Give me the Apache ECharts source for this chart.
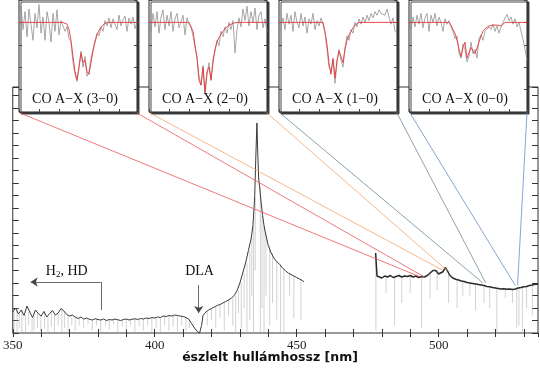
<!DOCTYPE html>
<html><head><meta charset="utf-8">
<script src="https://cdn.jsdelivr.net/npm/echarts@6/dist/echarts.min.js"></script>
<style>html,body{margin:0;padding:0;background:#fff}#c{width:540px;height:375px}</style>
</head><body><div id="c"></div>
<script>
// ---------- DATA ----------
const blueWave = [350,351,352,353,354,355,356,357,358,359,360,361,362,363,364,365,366,367,368,369,370,371,372,373,374,375,376,377,378,379,380,381,382,383,384,385,386,387,388,389,390,391,392,393,394,395,396,397,398,399,400,401,402,403,404,405,406,407,408,409,410,411,412,413,414,415,415.8,416.5,417,418,419,420,421,422,423,424,425,426,427,428,429,430,431,432,433,434,434.6,435.2,435.6,436,436.3,436.6,437,437.5,438,438.5,439,440,441,442,443,444,445,446,447,448,449,450,451,452,452.6];
const blueFlux = [0.84,1.0,0.76,0.92,0.7,1.08,0.84,0.62,0.92,0.78,
  0.68,0.86,0.64,0.78,0.9,0.72,0.8,0.98,0.88,0.74,
  0.68,0.72,0.64,0.58,0.64,0.56,0.6,0.55,0.52,0.57,
  0.54,0.52,0.56,0.5,0.54,0.52,0.56,0.53,0.5,0.54,
  0.56,0.52,0.55,0.57,0.54,0.58,0.56,0.6,0.58,0.62,
  0.6,0.64,0.62,0.68,0.66,0.7,0.68,0.72,0.7,0.68,
  0.66,0.62,0.55,
  0.38,0.2,0.06,0.0,0.3,
  0.7,0.84,0.92,0.98,1.04,1.1,1.14,1.2,1.26,1.32,1.4,1.5,1.7,2.0,2.4,2.8,3.3,3.8,
  4.3,5.4,7.0,8.4,7.2,6.2,5.8,5.2,4.7,4.3,4.0,
  3.5,3.2,3.0,2.85,2.75,2.6,2.5,2.4,2.34,2.28,2.22,2.16,2.1,
  2.05];
const redWave = [477.8,478.3,479,480,481,482,483,484,485,486,487,488,489,490,491,492,493,494,495,496,497,498,498.6,499,500,500.7,501.5,502.4,503,504,505,506,507,508,509,510,511,512,513,514,515,516,517,518,519,520,521,522,523,524,525,526,527,528,529,530,531,532,533,534,535];
const redFlux = [3.2,2.28,
  2.32,2.2,2.28,2.24,2.3,2.22,2.26,2.3,2.24,2.28,2.26,2.3,2.24,2.28,2.22,2.26,2.24,2.3,2.4,
  2.5,2.58,2.5,2.36,2.32,2.45,2.62,
  2.5,
  2.3,2.2,2.15,2.12,2.08,2.06,2.02,2.0,1.98,1.96,1.94,1.92,1.9,1.86,1.85,1.82,1.8,1.78,1.76,1.77,1.75,1.76,1.74,1.76,1.8,1.82,1.85,1.86,1.9,1.92,1.95,1.95];
const absWave = [350.5,351.5,352.3,353.2,354.5,355.6,356.8,357.5,358.7,359.9,361.2,362.4,363.6,364.7,366,367.3,368.2,369.5,370.8,372,373.4,375,376.5,378,379.5,381,382.7,384,385.5,387,388.6,390,391.5,393,394.5,396,397.5,399,400.5,402,403.5,405,406.5,408,409.5,411,412.2,
  418.5,420,421.5,423,424.5,426,427.5,428.5,429.5,430.5,431.5,432.5,433.5,434.2,434.8,435.4,437.2,437.8,438.5,439.2,440.5,441.5,443,444.3,445.5,447.5,449,451.5,
  477.9,481.5,484.5,487,490,494,497,499.5,503.5,506.5,508.5,511,513,516,518,520.5,523.5,526,527.5,528.3,529.5,531,533];
const absMin = [0.1,0.0,0.2,0.05,0.0,0.3,0.0,0.1,0.2,0.0,0.15,0.0,0.25,0.05,0.3,0.0,0.2,0.05,0.3,0.1,0.3,0.2,0.35,0.1,0.3,0.05,0.3,0.15,0.35,0.0,0.25,0.1,0.3,0.05,0.25,0.1,0.3,0.0,0.2,0.05,0.3,0.1,0.25,0.0,0.3,0.1,0.2,
  0.3,0.5,0.2,0.6,0.1,0.7,0.3,0.0,0.8,0.2,1.0,0.0,0.5,1.5,0.0,2.5,0.0,1.0,0.0,1.5,0.3,1.2,0.5,0.0,0.0,1.5,0.6,0.5,
  0.1,1.6,0.3,1.2,1.6,0.2,1.4,1.7,1.2,1.0,1.5,1.5,0.9,1.2,1.0,0.0,1.4,1.2,0.2,0.3,0.0,1.0,0.7];

const xTickLabels = [350,400,450,500];
const coBands = ['CO A\u2212X (3\u22120)','CO A\u2212X (2\u22120)','CO A\u2212X (1\u22120)','CO A\u2212X (0\u22120)'];
const connWaveLeft  = [493.6, 501.6, 515.6, 527.0];
const connWaveRight = [495.0, 503.0, 516.6, 527.8];
const connFlux = [2.24, 2.5, 2.0, 1.9];

const insetGray = [
 [1.05,1.18,0.92,1.12,0.84,1.15,0.98,0.8,1.1,0.94,1.2,0.88,1.06,0.8,1.12,1.0,0.78,1.1,0.9,1.14,0.86,1.02,0.96,
  0.9,0.95,0.82,0.78,0.55,0.42,0.34,0.5,0.68,0.5,0.62,0.4,0.45,0.6,0.7,0.72,0.88,0.85,0.95,0.9,1.02,0.96,1.05,0.94,1.04,1.06,0.92,1.08,0.96,1.03,1.07,0.9,1.05,0.98,1.06,0.93,1.0],
 [1.02,0.9,1.1,0.95,1.12,0.88,1.06,1.14,0.92,1.08,0.96,1.12,0.9,1.04,1.1,0.94,1.0,1.08,0.86,1.05,0.98,
  0.95,0.85,0.72,0.62,0.4,0.3,0.52,0.2,0.42,0.55,0.35,0.6,0.68,0.8,0.74,0.9,0.84,0.95,0.88,1.0,0.92,1.02,
  0.66,0.92,1.05,0.95,1.15,1.02,1.18,0.96,1.12,1.0,1.16,0.92,1.08,1.12,0.94,1.04,0.9],
 [0.88,0.95,1.05,0.92,1.1,0.98,1.08,0.9,1.12,1.0,0.94,1.1,0.96,1.06,0.88,1.04,0.98,1.1,0.92,1.02,0.96,1.05,
  0.98,0.88,0.7,0.5,0.45,0.58,0.32,0.55,0.7,0.58,0.5,0.72,0.85,0.8,0.92,0.88,1.0,0.95,
  1.04,0.98,1.06,1.0,1.08,1.02,1.1,1.05,1.12,1.08,1.14,1.1,1.12,1.08,1.15,1.06,0.98,1.05,0.9,0.88],
 [1.0,0.92,1.06,0.95,1.08,0.98,1.1,0.94,1.05,1.1,0.9,1.08,1.0,1.1,0.96,1.06,1.0,0.9,1.04,0.98,
  1.02,0.95,0.9,0.82,0.85,0.66,0.6,0.76,0.7,0.56,0.62,0.78,0.65,0.7,0.6,0.82,0.86,0.8,0.9,0.88,0.95,
  0.92,0.98,0.9,0.96,0.88,0.95,1.0,1.05,1.09,1.02,1.06,0.98,1.04,0.95,1.0,0.9,0.81,0.7,0.58]
];
const insetModel = [
 [1,1,1,1,1,1,1,1,1,1,1,1,1,1,1,1,1,1,1,1,1,1,1,1,
  0.98,0.92,0.8,0.62,0.45,0.36,0.5,0.66,0.55,0.58,0.45,0.42,0.55,0.68,0.78,0.86,0.91,0.95,0.97,0.99,
  1,1,1,1,1,1,1,1,1,1,1,1,1,1,1,1],
 [1,1,1,1,1,1,1,1,1,1,1,1,1,1,1,1,1,1,1,1,1,
  1.0,0.9,0.75,0.6,0.35,0.3,0.5,0.22,0.45,0.5,0.36,0.55,0.7,0.78,0.83,0.87,0.9,0.93,0.95,0.97,0.98,0.99,
  1,1,1,1,1,1,1,1,1,1,1,1,1,1,1,1,1],
 [1,1,1,1,1,1,1,1,1,1,1,1,1,1,1,1,1,1,1,1,1,1,
  1.0,0.9,0.75,0.55,0.42,0.6,0.38,0.58,0.68,0.62,0.55,0.7,0.8,0.86,0.9,0.94,0.97,0.99,
  1,1,1,1,1,1,1,1,1,1,1,1,1,1,1,1,1,1,1,1],
 [1,1,1,1,1,1,1,1,1,1,1,1,1,1,1,1,1,1,1,1,
  1.0,0.97,0.92,0.88,0.8,0.7,0.62,0.72,0.78,0.6,0.6,0.72,0.7,0.65,0.66,0.78,0.85,0.9,0.93,0.95,0.96,0.97,0.97,0.97,0.97,0.95,0.96,0.98,
  1,1,1,1,1,1,1,1,1,1,1,1]
];
// annotation anchors (data units)
const h2Stem = [[381,0.92],[381,2.04]];
const h2Arrow = [[381,2.04],[356.3,2.04]];
const dlaArrow = [[415.5,1.92],[415.5,0.8]];
const h2LabelPos = [369, 2.48];
const dlaLabelPos = [415.8, 2.48];

// ---------- LAYOUT / STYLE ----------
const SERIF = "'Liberation Serif','DejaVu Serif',serif";
const MAIN = {left:12, top:87, width:526, height:246};
const INSET = {lefts:[19,149,279,409], top:-1, width:118, height:113};
const connColors = ['#e8585a','#f3a56e','#6f8a98','#6a8bc9'];

const chart = echarts.init(document.getElementById('c'), null, {renderer:'canvas'});

function contAt(w){ // nearest continuum sample
  let best=null, bd=1e9;
  const chk=(W,F)=>{for(let i=0;i<W.length;i++){const d=Math.abs(W[i]-w); if(d<bd){bd=d;best=F[i];}}};
  chk(blueWave,blueFlux); chk(redWave,redFlux); return best;
}
const absData = absWave.map((w,i)=>[w, absMin[i], contAt(w)]);
const blueData = blueWave.map((w,i)=>[w,blueFlux[i]]);
const redData = redWave.map((w,i)=>[w,redFlux[i]]);

const grid=[{left:MAIN.left, top:MAIN.top, width:MAIN.width, height:MAIN.height, show:true, borderColor:'#333', borderWidth:1, backgroundColor:'#fff', z:0}];
const xAxis=[
 {type:'value', gridIndex:0, min:350, max:535, interval:10, position:'bottom',
  axisLine:{show:false}, splitLine:{show:false},
  axisTick:{inside:true, length:4, lineStyle:{color:'#333'}},
  axisLabel:{fontFamily:SERIF, fontSize:13, color:'#222', margin:6, showMaxLabel:false,
    formatter:v=> xTickLabels.indexOf(v)>=0 ? String(v) : ''}},
 {type:'value', gridIndex:0, min:350, max:535, interval:10, position:'top',
  axisLine:{show:false}, splitLine:{show:false}, axisLabel:{show:false},
  axisTick:{inside:true, length:4, lineStyle:{color:'#333'}}}
];
const yAxis=[
 {type:'value', gridIndex:0, min:0, max:9.84, interval:0.5, position:'left', axisLine:{show:false}, splitLine:{show:false}, axisLabel:{show:false}, axisTick:{inside:true,length:6,lineStyle:{color:'#333'}}},
 {type:'value', gridIndex:0, min:0, max:9.84, interval:0.5, position:'right', axisLine:{show:false}, splitLine:{show:false}, axisLabel:{show:false}, axisTick:{inside:true,length:6,lineStyle:{color:'#333'}}}
];
const series=[
 {type:'custom', xAxisIndex:0, yAxisIndex:0, data:absData, encode:{x:0,y:[1,2]}, z:2, silent:true, clip:true,
  renderItem:(p,api)=>{const a=api.coord([api.value(0),api.value(1)]), b=api.coord([api.value(0),api.value(2)]);
    return {type:'line', shape:{x1:a[0],y1:a[1],x2:b[0],y2:b[1]}, style:{stroke:'#b4b4b4', lineWidth:0.6}};}},
 {type:'line', xAxisIndex:0, yAxisIndex:0, data:blueData, showSymbol:false, z:3,
  lineStyle:{color:'#3a3a3a', width:1.0}},
 {type:'line', xAxisIndex:0, yAxisIndex:0, data:redData, showSymbol:false, z:3,
  lineStyle:{color:'#2a2a2a', width:1.5}},
 {type:'lines', coordinateSystem:'cartesian2d', xAxisIndex:0, yAxisIndex:0, z:4,
  symbol:['none','none'], lineStyle:{color:'#444', width:0.8, opacity:1},
  data:[{coords:h2Stem}]},
 {type:'lines', coordinateSystem:'cartesian2d', xAxisIndex:0, yAxisIndex:0, z:4,
  symbol:['none','arrow'], symbolSize:[5,7],
  lineStyle:{color:'#444', width:0.8, opacity:1},
  data:[{coords:h2Arrow},{coords:dlaArrow}]}
];
for(let k=0;k<4;k++){
  const gi=k+1;
  grid.push({left:INSET.lefts[k], top:INSET.top, width:INSET.width, height:INSET.height, show:true, backgroundColor:'#fff',
    borderColor:'#222', borderWidth:1, shadowColor:'rgba(40,40,40,0.85)', shadowOffsetX:2, shadowOffsetY:2, shadowBlur:0, z:5});
  xAxis.push({type:'value', gridIndex:gi, min:0, max:59, interval:10, position:'bottom', z:6,
    axisLine:{show:false}, splitLine:{show:false}, axisLabel:{show:false}, axisTick:{inside:true,length:3,lineStyle:{color:'#444'}}});
  yAxis.push({type:'value', gridIndex:gi, min:0, max:1.25, interval:0.25, position:'left', z:6,
    axisLine:{show:false}, splitLine:{show:false}, axisLabel:{show:false}, axisTick:{inside:true,length:3,lineStyle:{color:'#444'}}});
  yAxis.push({type:'value', gridIndex:gi, min:0, max:1.25, interval:0.25, position:'right', z:6,
    axisLine:{show:false}, splitLine:{show:false}, axisLabel:{show:false}, axisTick:{inside:true,length:3,lineStyle:{color:'#444'}}});
  const xi = 2+k, yi = 2+2*k;
  series.push({type:'line', xAxisIndex:xi, yAxisIndex:yi, z:7, showSymbol:false, clip:true,
    data:insetGray[k].map((v,i)=>[i,v]), lineStyle:{color:'#909090', width:0.8}});
  series.push({type:'line', xAxisIndex:xi, yAxisIndex:yi, z:8, showSymbol:false, clip:true,
    data:insetModel[k].map((v,i)=>[i,v]), lineStyle:{color:'#e8383c', width:0.9}});
}

chart.setOption({animation:false, backgroundColor:'#fff', grid, xAxis, yAxis, series});

// decorations anchored to data
const g=[];
for(let k=0;k<4;k++){
  const a=chart.convertToPixel({gridIndex:0},[connWaveLeft[k],connFlux[k]]);
  const b=chart.convertToPixel({gridIndex:0},[connWaveRight[k],connFlux[k]]);
  const x0=INSET.lefts[k]+1, x1=INSET.lefts[k]+INSET.width, y0=INSET.top+INSET.height+1;
  g.push({type:'line', z:50, shape:{x1:x0,y1:y0,x2:a[0],y2:a[1]}, style:{stroke:connColors[k], lineWidth:0.8}});
  g.push({type:'line', z:50, shape:{x1:x1,y1:y0,x2:b[0],y2:b[1]}, style:{stroke:connColors[k], lineWidth:0.8}});
  g.push({type:'text', z:60, x:INSET.lefts[k]+INSET.width/2-3, y:99,
    style:{text:coBands[k], font:'14px '+SERIF, fill:'#111', textAlign:'center', textVerticalAlign:'middle'}});
}
const hp=chart.convertToPixel({gridIndex:0},h2LabelPos);
const dp=chart.convertToPixel({gridIndex:0},dlaLabelPos);
g.push({type:'text', z:60, x:hp[0], y:hp[1], style:{text:'{a|H}{b|2}{a|, HD}', fill:'#111', textAlign:'center', textVerticalAlign:'middle',
  rich:{a:{fontFamily:SERIF, fontSize:14, fill:'#111'}, b:{fontFamily:SERIF, fontSize:9, fill:'#111', padding:[7,0,0,0]}}}});
g.push({type:'text', z:60, x:dp[0], y:dp[1], style:{text:'DLA', font:'14px '+SERIF, fill:'#111', textAlign:'center', textVerticalAlign:'middle'}});
g.push({type:'text', z:60, x:270, y:358, style:{text:'észlelt hullámhossz [nm]', font:'bold 12.5px "DejaVu Sans"', fill:'#111', textAlign:'center', textVerticalAlign:'middle'}});
chart.setOption({graphic:g});
</script></body></html>
